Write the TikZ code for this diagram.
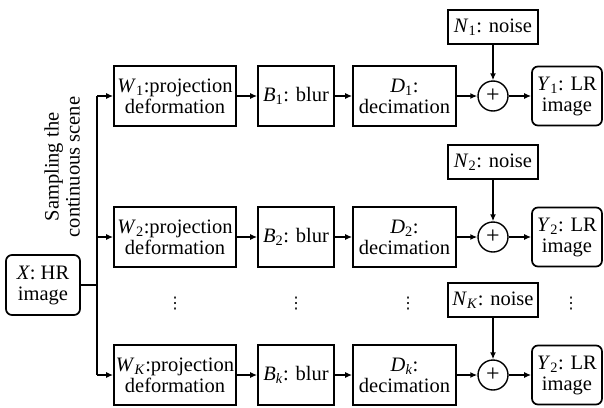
\documentclass[tikz,border=0pt]{standalone}
\usepackage{fontspec}
\setmainfont{LiberationSerif}[Extension=.ttf, UprightFont=*-Regular, ItalicFont=*-Italic, BoldFont=*-Bold, BoldItalicFont=*-BoldItalic]
\newfontfamily\djv{DejaVu Sans}
\usetikzlibrary{arrows.meta}
\newcommand\mysub[1]{\textsubscript{#1}}
\begin{document}
\begin{tikzpicture}[x=1pt,y=-1pt,
  every node/.style={font=\rmfamily\fontsize{20.5}{21}\selectfont},
  box/.style={draw, line width=1.7pt, minimum height=60pt, inner sep=0pt, align=center},
  rbox/.style={box, rounded corners=6pt},
  sumc/.style={draw, circle, line width=1.4pt, minimum size=30pt, inner sep=0pt},
  nbox/.style={draw, line width=1.7pt, minimum height=34pt, minimum width=90pt, inner sep=0pt},
  arr/.style={line width=1.6pt, -{Latex[length=7pt,width=6pt]}},
  ln/.style={line width=1.6pt},
  dots/.style={font=\djv\fontsize{16}{16}\selectfont}]
\useasboundingbox (0,0) rectangle (604,407);

\node[rbox, minimum width=74pt] (X) at (43,285) {\textit{X}: HR\\image};
\node[rotate=90, align=center] (lab) at (62,167) {Sampling the\\continuous scene};

\foreach \r/\y/\ny/\ws/\bs/\ds/\ns/\ys in {1/96/27/1/1/1/1/1, 2/237/162/2/2/2/2/2, K/375/300/\textit{K}/\textit{k}/\textit{k}/\textit{K}/2}{
  \node[box, minimum width=122pt] (W\r) at (175,\y) {\textit{W}\mysub{\ws}:projection\\deformation};
  \node[box, minimum width=76pt] (B\r) at (296,\y) {\textit{B}\mysub{\bs}: blur};
  \node[box, minimum width=103pt] (D\r) at (404.5,\y) {\textit{D}\mysub{\ds}:\\decimation};
  \node[sumc, font=\rmfamily\fontsize{24}{24}\selectfont] (S\r) at (493,\y) {+};
  \node[rbox, minimum width=70pt, minimum height=59pt] (Y\r) at (567,\y) {\textit{Y}\mysub{\ys}: LR\\image};
  \node[nbox] (N\r) at (493,\ny) {\textit{N}\mysub{\ns}: noise};
  \coordinate (J\r) at (97,\y);
  \draw[arr] (J\r) -- (W\r);
  \draw[arr] (W\r) -- (B\r);
  \draw[arr] (B\r) -- (D\r);
  \draw[arr] (D\r) -- (S\r);
  \draw[arr] (S\r) -- (Y\r);
  \draw[arr] (N\r) -- (S\r);
}
\coordinate (Jx) at (97,285);
\draw[ln] (X) -- (Jx);
\draw[ln] (J1) -- (JK);

\node[dots] (dW) at (175,304) {⋮};
\node[dots] (dB) at (296,304) {⋮};
\node[dots] (dD) at (408,304) {⋮};
\node[dots] (dY) at (571,304) {⋮};
\end{tikzpicture}
\end{document}
